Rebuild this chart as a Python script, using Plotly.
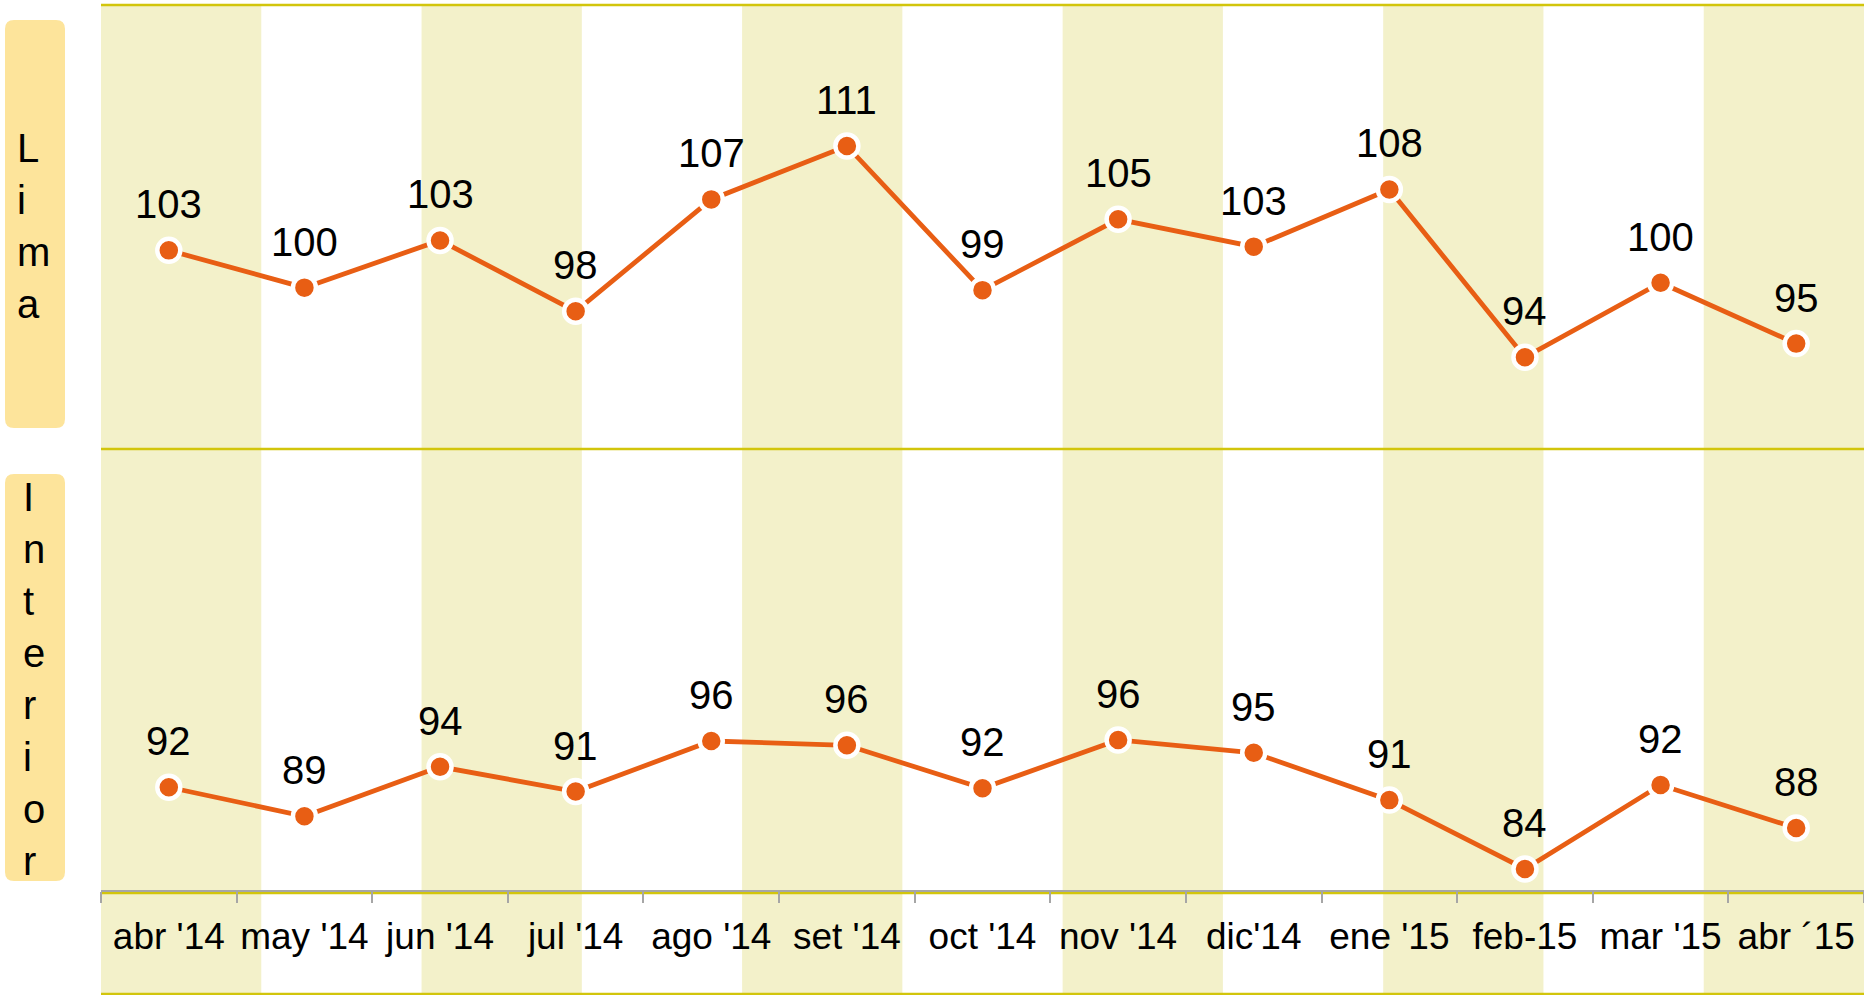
import plotly.graph_objects as go

# ---- data ----
months = ["abr '14", "may '14", "jun '14", "jul '14", "ago '14", "set '14", "oct '14",
          "nov '14", "dic'14", "ene '15", "feb-15", "mar '15", "abr \u00b415"]
lima = [102.6, 99.6, 103.4, 97.7, 106.7, 111.0, 99.4, 105.1, 102.9, 107.5, 94.0, 100.0, 95.1]
interior = [91.8, 89.1, 93.7, 91.4, 96.1, 95.7, 91.7, 96.2, 95.0, 90.6, 84.2, 92.0, 88.0]
panel_titles = ["Lima", "Interior"]

# ---- style ----
W, H = 1864, 995
ML, MR, MT, MB = 101, 0, 5, 105
PH = H - MT - MB
ORANGE = "#E85E14"
STRIPE = "#F3F1CA"
RULE = "#D2C50C"
BOX = "#FDE49B"
FONT = "Liberation Sans, Arial, sans-serif"
split = 0.4983

def px2paper_y(py):
    return (H - MB - py) / PH

fig = go.Figure()
annotations = []

def add_series(vals, yaxis):
    fig.add_trace(go.Scatter(
        x=months, y=vals, yaxis=yaxis, mode="lines+markers",
        line=dict(color=ORANGE, width=4.8),
        marker=dict(size=23, color=ORANGE, line=dict(color="white", width=4.5)),
        cliponaxis=False, showlegend=False, hoverinfo="x+y"))
    for m, v in zip(months, vals):
        annotations.append(dict(x=m, y=v, xref="x", yref=yaxis, text=f"{v:.0f}",
                                showarrow=False, xanchor="center", yanchor="middle", yshift=46,
                                font=dict(family=FONT, size=40, color="black")))

add_series(lima, "y")
add_series(interior, "y2")

shapes = []
# alternating vertical stripes (11 equal bands)
nb = 11
ybot = px2paper_y(994)
for i in range(0, nb, 2):
    shapes.append(dict(type="rect", xref="paper", yref="paper", x0=i / nb, x1=(i + 1) / nb,
                       y0=ybot, y1=1, fillcolor=STRIPE, line=dict(width=0), layer="below"))
# horizontal rules
for yy in [1, split, px2paper_y(893), ybot]:
    shapes.append(dict(type="line", xref="paper", yref="paper", x0=0, x1=1, y0=yy, y1=yy,
                       line=dict(color=RULE, width=2.5), layer="below"))

def rounded(x0, x1, ytop, ybottom, r):
    # pixel coords relative to anchor; y upward
    return (f"M {x0+r},{ytop} L {x1-r},{ytop} Q {x1},{ytop} {x1},{ytop-r} "
            f"L {x1},{ybottom+r} Q {x1},{ybottom} {x1-r},{ybottom} "
            f"L {x0+r},{ybottom} Q {x0},{ybottom} {x0},{ybottom+r} "
            f"L {x0},{ytop-r} Q {x0},{ytop} {x0+r},{ytop} Z")

# label boxes: pixel positions relative to (plot left, plot bottom)
boxes = [(20, 428), (474, 881)]
for (pt, pb) in boxes:
    shapes.append(dict(type="path", xref="paper", yref="paper",
                       xsizemode="pixel", ysizemode="pixel", xanchor=0, yanchor=0,
                       path=rounded(5 - ML, 65 - ML, (H - MB) - pt, (H - MB) - pb, 9),
                       fillcolor=BOX, line=dict(width=0), layer="below"))

label_pos = [(15, 226), (21, 679)]
for name, (lx, ly) in zip(panel_titles, label_pos):
    annotations.append(dict(text="<br>".join(list(name)), xref="paper", yref="paper",
                            x=(lx - ML) / (W - ML - MR), y=px2paper_y(ly),
                            xanchor="left", yanchor="middle", align="left", showarrow=False,
                            font=dict(family=FONT, size=40, color="black")))

fig.update_layout(
    width=W, height=H,
    margin=dict(l=ML, r=MR, t=MT, b=MB, pad=0, autoexpand=False),
    paper_bgcolor="white", plot_bgcolor="rgba(0,0,0,0)",
    font=dict(family=FONT, color="black"),
    shapes=shapes, annotations=annotations,
    xaxis=dict(type="category", range=[-0.5, 12.5], anchor="y2", automargin=False,
               tickangle=0, ticklabelstandoff=13,
               showgrid=False, zeroline=False, showline=True, linecolor="#A6A6A6", linewidth=2,
               ticks="outside", tickson="boundaries", ticklen=11, tickwidth=2, tickcolor="#A6A6A6",
               tickfont=dict(family=FONT, size=37, color="black"), fixedrange=True),
    yaxis=dict(domain=[split, 1], range=[86.62, 122.34], visible=False, fixedrange=True),
    yaxis2=dict(domain=[0, split], range=[82.24, 123.26], visible=False, fixedrange=True),
)

fig.write_html("out.html", config={"displayModeBar": False},
               post_script="document.body.style.margin='0';document.body.style.overflow='hidden';")
